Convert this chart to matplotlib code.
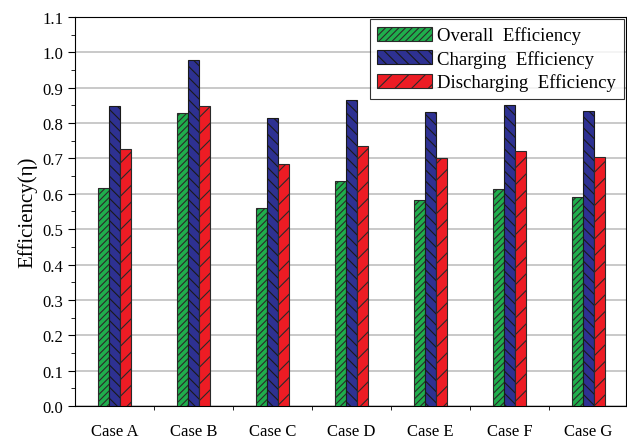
import numpy as np
import matplotlib
matplotlib.use("Agg")
import matplotlib.pyplot as plt
from matplotlib.ticker import MultipleLocator

plt.rcParams['font.family'] = ['Liberation Serif', 'DejaVu Serif']
plt.rcParams['hatch.linewidth'] = 0.8

cases = ["Case A", "Case B", "Case C", "Case D", "Case E", "Case F", "Case G"]
overall = [0.615, 0.828, 0.560, 0.637, 0.583, 0.614, 0.590]
charging = [0.848, 0.977, 0.815, 0.866, 0.832, 0.851, 0.835]
discharging = [0.728, 0.848, 0.685, 0.735, 0.702, 0.722, 0.705]

fig = plt.figure(figsize=(6.27, 4.39), dpi=100)
ax = fig.add_axes([0.12, 0.073, 0.878, 0.886])

x = np.arange(len(cases))
w = 0.14
ax.bar(x - w, overall, w, color="#1fae4c", edgecolor="#2a2a2a", linewidth=0.8,
       hatch="/////", label="Overall  Efficiency", zorder=3)
ax.bar(x, charging, w, color="#2e3192", edgecolor="#1a1a1a", linewidth=0.8,
       hatch="\\\\\\", label="Charging  Efficiency", zorder=3)
ax.bar(x + w, discharging, w, color="#ed1c24", edgecolor="#2a2a2a", linewidth=0.8,
       hatch="//", label="Discharging  Efficiency", zorder=3)

ax.set_xlim(-0.5, 6.47)
ax.set_ylim(0, 1.1)
ax.yaxis.set_major_locator(MultipleLocator(0.1))
ax.yaxis.set_minor_locator(MultipleLocator(0.05))
ax.yaxis.set_major_formatter(plt.FuncFormatter(lambda v, p: "%.1f" % v))
ax.set_xticks(x)
ax.set_xticklabels(cases, fontsize=12)
ax.set_xticks(x[:-1] + 0.5, minor=True)
ax.tick_params(axis='x', which='major', length=0, pad=12)
ax.tick_params(axis='x', which='minor', length=3, direction='out')
ax.tick_params(axis='y', which='major', length=5, labelsize=12, direction='out')
ax.tick_params(axis='y', which='minor', length=3, direction='out')
ax.yaxis.grid(True, color="#c0c0c0", linewidth=1.2, zorder=0)
ax.set_axisbelow(True)
ax.set_ylabel("Efficiency(η)", fontsize=15)

leg = ax.legend(loc="upper right", fontsize=13.5, frameon=True, fancybox=False,
                edgecolor="black", borderaxespad=0.1, handlelength=2.9,
                handleheight=0.8, handletextpad=0.3, labelspacing=0.3,
                borderpad=0.4)
leg.get_frame().set_linewidth(0.8)

fig.savefig("out.png", dpi=100)
